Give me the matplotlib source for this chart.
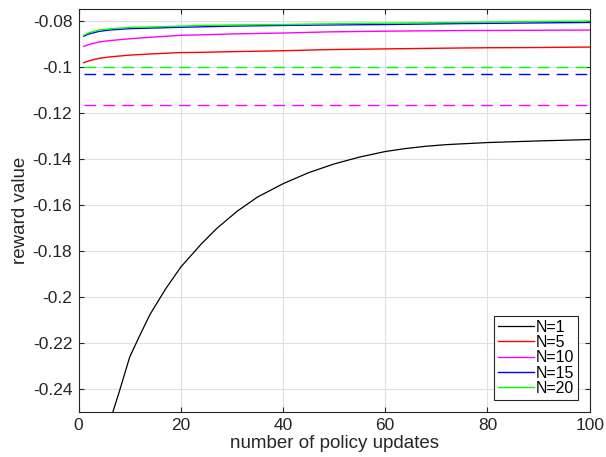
import matplotlib
matplotlib.use("Agg")
import matplotlib.pyplot as plt
from matplotlib.ticker import FuncFormatter

plt.rcParams.update({
    "font.family": ["Liberation Sans", "DejaVu Sans"],
    "font.size": 12.5,
    "lines.scale_dashes": False,
})

AX_COLOR = "#262626"

# N=1 curve (starts below the visible range)
x_n1 = [1, 5, 8, 10, 12, 14, 17, 20, 24, 27, 31, 35, 40, 45, 50, 55, 60, 64, 68, 72,
        80, 90, 100]
y_n1 = [-0.310, -0.262, -0.2409, -0.2261, -0.2166, -0.2075, -0.1966, -0.1870, -0.1770,
        -0.1703, -0.1628, -0.1566, -0.1508, -0.1460, -0.1422, -0.1392, -0.1368,
        -0.1355, -0.1345, -0.1338, -0.1329, -0.1322, -0.1316]

# other curves share the same sample points
x_upd = [1, 2, 4, 6, 10, 15, 20, 24, 30, 40, 49, 60, 75, 80, 90, 100]
y_n5 = [-0.0982, -0.0974, -0.0963, -0.0957, -0.0949, -0.0943, -0.0938, -0.0937,
        -0.0934, -0.0930, -0.0925, -0.0922, -0.0918, -0.0917, -0.0916, -0.0914]
y_n10 = [-0.0911, -0.0903, -0.0892, -0.0886, -0.0878, -0.0870, -0.0863, -0.0861,
         -0.0857, -0.0853, -0.0848, -0.0845, -0.0842, -0.0842, -0.0841, -0.0840]
y_n15 = [-0.0867, -0.0857, -0.0846, -0.0840, -0.0834, -0.0831, -0.0828, -0.0826,
         -0.0823, -0.0820, -0.0818, -0.0816, -0.0812, -0.0811, -0.0809, -0.0807]
y_n20 = [-0.0863, -0.0852, -0.0840, -0.0835, -0.0829, -0.0826, -0.0823, -0.0820,
         -0.0818, -0.0816, -0.0813, -0.0810, -0.0807, -0.0805, -0.0803, -0.0801]

labels = ["N=1", "N=5", "N=10", "N=15", "N=20"]
colors = ["black", "#ff0000", "#ff00ff", "#0000ff", "#00ff00"]

# dashed baseline levels (N=10, N=15, N=20)
base_x = [1, 100]
base_levels = [-0.1165, -0.1032, -0.1000]
base_colors = ["#ff00ff", "#0000ff", "#00ff00"]

fig = plt.figure(figsize=(6.06, 4.57), dpi=100)
ax = fig.add_axes([0.1297, 0.0985, 0.8433, 0.8811])

series = [(x_n1, y_n1), (x_upd, y_n5), (x_upd, y_n10), (x_upd, y_n15), (x_upd, y_n20)]
for (xs, ys), lab, col in zip(series, labels, colors):
    ax.plot(xs, ys, color=col, lw=0.9 if col == "black" else 1.0, label=lab)

for lvl, col in zip(base_levels, base_colors):
    line, = ax.plot(base_x, [lvl, lvl], color=col, lw=1.0)
    line.set_dashes([8.4, 5.2])

ax.set_xlim(0, 100)
ax.set_ylim(-0.25, -0.075)
ax.set_xticks([0, 20, 40, 60, 80, 100])
ax.set_yticks([-0.24, -0.22, -0.2, -0.18, -0.16, -0.14, -0.12, -0.1, -0.08])
ax.yaxis.set_major_formatter(FuncFormatter(lambda v, p: "%g" % round(v, 4)))

ax.grid(True, color="#e0e0e0", lw=0.8)
ax.set_axisbelow(True)
for s in ax.spines.values():
    s.set_color(AX_COLOR)
    s.set_linewidth(0.8)
ax.tick_params(direction="in", length=3.5, width=0.8, color=AX_COLOR,
               labelcolor=AX_COLOR, top=True, right=True, labelsize=12.5)
ax.tick_params(axis="y", pad=4.5)
ax.tick_params(axis="x", pad=4.5)

ax.set_xlabel("number of policy updates", fontsize=13.5, color=AX_COLOR, labelpad=1)
ax.set_ylabel("reward value", fontsize=13.5, color=AX_COLOR, labelpad=3)

leg = ax.legend(loc="lower right", bbox_to_anchor=(0.978, 0.030), borderaxespad=0,
                fontsize=11.5, fancybox=False, framealpha=1, edgecolor=AX_COLOR,
                handlelength=2.3, handletextpad=0.1, labelspacing=0.02,
                borderpad=0.25)
leg.get_frame().set_linewidth(0.8)

fig.savefig("out.png", dpi=100)
